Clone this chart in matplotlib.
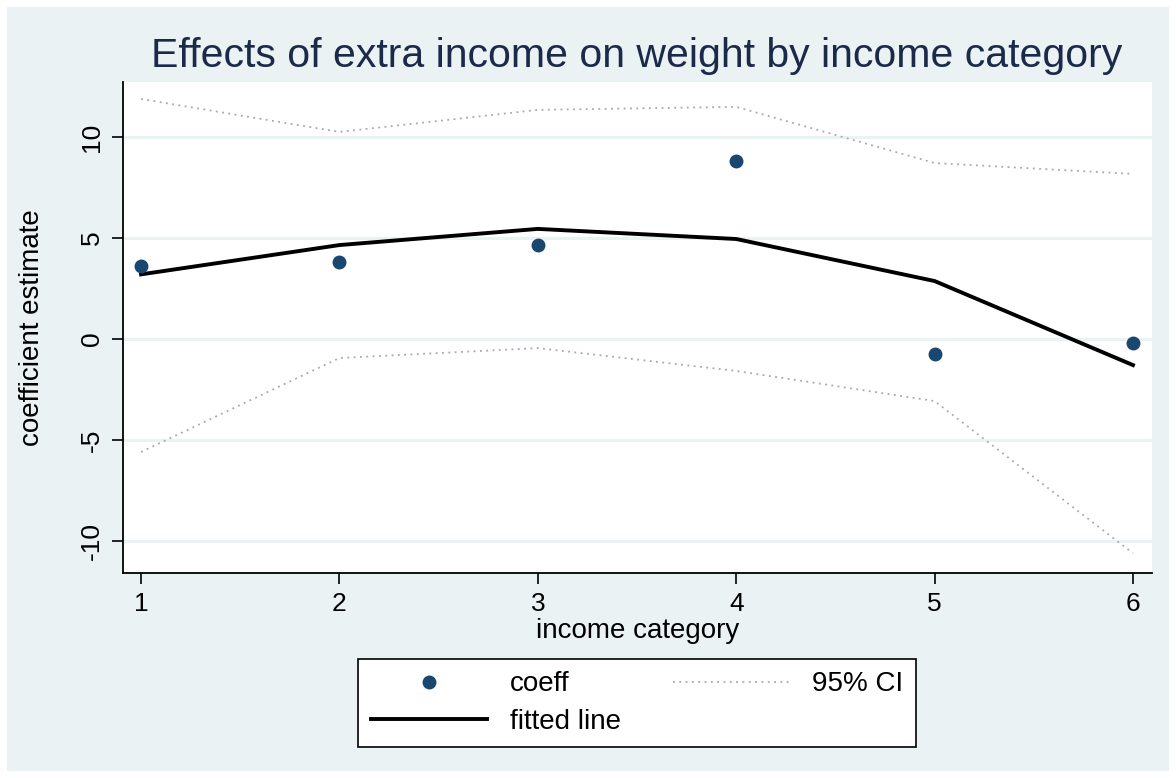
import matplotlib.pyplot as plt
from matplotlib.lines import Line2D
from matplotlib.patches import Rectangle

plt.rcParams['font.family'] = ['Liberation Sans', 'DejaVu Sans']

income_cat = [1, 2, 3, 4, 5, 6]
coeff = [3.61, 3.81, 4.65, 8.81, -0.74, -0.2]
fitted = [3.2, 4.65, 5.45, 4.95, 2.87, -1.29]
ci_upper = [11.88, 10.25, 11.34, 11.49, 8.71, 8.17]
ci_lower = [-5.59, -0.94, -0.45, -1.58, -3.07, -10.6]

bg = '#EAF2F3'
navy = '#1A476F'

fig = plt.figure(figsize=(11.76, 7.78), dpi=100, facecolor=bg)
# thin white border round the graph region
fig.patches.append(Rectangle((0, 0), 1, 1, transform=fig.transFigure,
                             fill=False, edgecolor='white', lw=10))

ax = fig.add_axes([123 / 1176, 1 - 573 / 778, (1152 - 123) / 1176, (573 - 82) / 778])
ax.set_facecolor('white')

for v in [-10, -5, 0, 5, 10]:
    ax.axhline(v, color=bg, lw=2.2, zorder=0)

ax.plot(income_cat, ci_upper, color='#A8A8A8', lw=1.3, ls=(0, (1, 2.5)), zorder=2)
ax.plot(income_cat, ci_lower, color='#A8A8A8', lw=1.3, ls=(0, (1, 2.5)), zorder=2)
ax.plot(income_cat, fitted, color='black', lw=2.8, zorder=3)
ax.plot(income_cat, coeff, 'o', color=navy, ms=9, zorder=4)

ax.set_xlim(0.909, 6.096)
ax.set_ylim(-11.58, 12.72)
ax.set_xticks(income_cat)
ax.set_yticks([-10, -5, 0, 5, 10])
ax.set_yticklabels(['-10', '-5', '0', '5', '10'], rotation=90, va='center')
ax.tick_params(labelsize=19, length=8, width=1.2, colors='black', pad=6)

for s in ['top', 'right']:
    ax.spines[s].set_visible(False)
for s in ['left', 'bottom']:
    ax.spines[s].set_linewidth(1.3)

ax.set_xlabel('income category', fontsize=20, labelpad=1)
ax.set_ylabel('coefficient estimate', fontsize=20, labelpad=-2)
ax.yaxis.set_label_coords(-78 / 1029, 0.5)

fig.text(637 / 1176, 1 - 56 / 778, 'Effects of extra income on weight by income category',
         ha='center', va='center', fontsize=29.5, color='#1C2A4A')

handles = [
    Line2D([], [], marker='o', color=navy, ls='none', ms=9),
    Line2D([], [], color='black', lw=2.8),
    Line2D([], [], color='#A8A8A8', lw=1.3, ls=(0, (1, 2.5))),
]
labels = ['coeff', 'fitted line', '95% CI']
leg = fig.legend(handles, labels, ncol=2, loc='center',
                 bbox_to_anchor=(637 / 1176, 1 - 703 / 778),
                 fontsize=20, frameon=True, fancybox=False, edgecolor='black',
                 framealpha=1, handlelength=4.2, columnspacing=1.9,
                 borderpad=0.45, labelspacing=0.4, borderaxespad=0)
leg.get_frame().set_linewidth(1.2)

fig.savefig('out.png', dpi=100, facecolor=bg)
